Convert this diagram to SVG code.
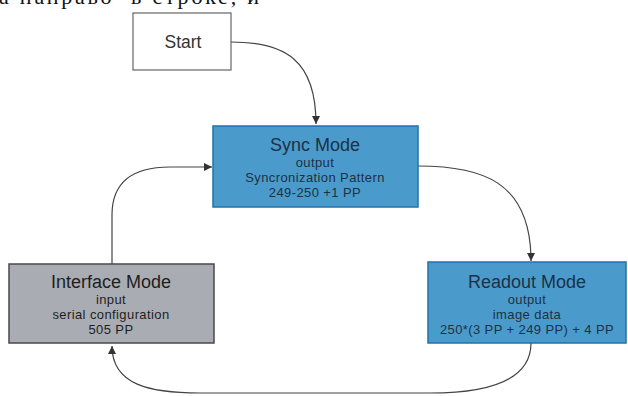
<svg xmlns="http://www.w3.org/2000/svg" width="628" height="396" viewBox="0 0 628 396">
<style>
.box{stroke-width:1.5}
.blue{fill:#4a9bcb;stroke:#1f73a8}
.gray{fill:#a9adb3;stroke:#4a4a4a}
.white{fill:#ffffff;stroke:#666666;stroke-width:1.2}
.t{font-family:"Liberation Sans",Arial,sans-serif;text-anchor:middle}
.title{font-size:18px}
.sub{font-size:13px;letter-spacing:0.4px}
.bt{fill:#1d3146}
.gt{fill:#1e1e1e}
.edge{fill:none;stroke:#444444;stroke-width:1.2}
</style>
<defs>
<marker id="arr" markerWidth="10" markerHeight="10" refX="8" refY="4" orient="auto" markerUnits="userSpaceOnUse">
<path d="M0,0 L8,4 L0,8 Z" fill="#333333"/>
</marker>
</defs>
<rect width="628" height="396" fill="#ffffff"/>
<text x="-1" y="4" font-family="'Liberation Serif','Times New Roman',serif" font-size="22" fill="#111" textLength="260" lengthAdjust="spacing" xml:space="preserve">а направо  в строке, и</text>
<g id="connectors">
<path class="edge" d="M231,42 C285,42 316,60 316,124" marker-end="url(#arr)"/>
<path class="edge" d="M418,166 C480,166 531,180 531,261" marker-end="url(#arr)"/>
<path class="edge" d="M531,343 C531,380 490,393 430,393 L200,393 C150,393 112,385 112,346" marker-end="url(#arr)"/>
<path class="edge" d="M112,264 L112,215 C112,180 135,167 170,167 L212,167" marker-end="url(#arr)"/>
</g>
<g id="start">
<rect class="white" x="133" y="13" width="98" height="57"/>
<text class="t" x="183" y="48" font-size="17.5" fill="#333333">Start</text>
</g>
<g id="sync">
<rect class="box blue" x="213" y="126" width="205" height="81"/>
<text class="t title bt" x="315" y="151">Sync Mode</text>
<text class="t sub bt" x="315" y="167">output</text>
<text class="t sub bt" x="315" y="181.5">Syncronization Pattern</text>
<text class="t sub bt" x="315" y="196.5">249-250 +1 PP</text>
</g>
<g id="interface">
<rect class="box gray" x="9" y="264" width="205" height="79"/>
<text class="t title gt" x="111" y="288">Interface Mode</text>
<text class="t sub gt" x="111" y="304">input</text>
<text class="t sub gt" x="111" y="318.5">serial configuration</text>
<text class="t sub gt" x="111" y="333.5">505 PP</text>
</g>
<g id="readout">
<rect class="box blue" x="428" y="262" width="198" height="81"/>
<text class="t title bt" x="527" y="288">Readout Mode</text>
<text class="t sub bt" x="527" y="304">output</text>
<text class="t sub bt" x="527" y="318.5">image data</text>
<text class="t sub bt" x="527" y="333.5">250*(3 PP + 249 PP) + 4 PP</text>
</g>
</svg>
